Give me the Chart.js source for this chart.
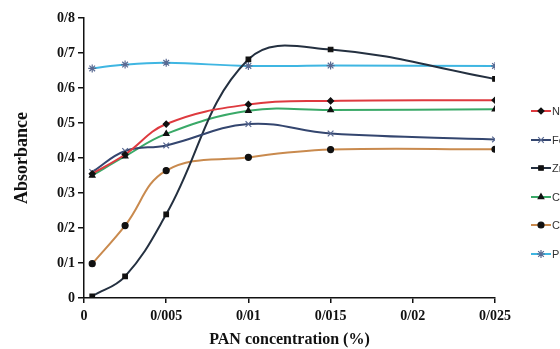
<!DOCTYPE html>
<html><head><meta charset="utf-8">
<script src="https://cdn.jsdelivr.net/npm/chart.js@4"></script>
<style>html,body{margin:0;padding:0;background:#fff;overflow:hidden}#wrap{width:560px;height:349px;position:relative}</style>
</head><body><div id="wrap"><canvas id="c" width="560" height="349"></canvas></div>
<script>
const concentrations = [0.0005, 0.0025, 0.005, 0.01, 0.015, 0.025];
const seriesNames = ["Ni", "Fe", "Zn", "Cu", "Co", "Pb"];
const niValues = [0.355, 0.41, 0.497, 0.553, 0.563, 0.565];
const feValues = [0.36, 0.42, 0.436, 0.497, 0.47, 0.453];
const znValues = [0.005, 0.062, 0.239, 0.682, 0.71, 0.626];
const cuValues = [0.35, 0.405, 0.469, 0.535, 0.537, 0.539];
const coValues = [0.098, 0.207, 0.364, 0.402, 0.424, 0.425];
const pbValues = [0.656, 0.667, 0.672, 0.663, 0.664, 0.663];
const yTickLabels = ["0","0/1","0/2","0/3","0/4","0/5","0/6","0/7","0/8"];
const xTickLabels = ["0","0/005","0/01","0/015","0/02","0/025"];

const styles = [
  {line:'#de3a3f', point:'rectRot', pc:'#111', r:3},
  {line:'#34466f', point:'crossRot', pc:'#5a6a92', r:4},
  {line:'#243040', point:'rect', pc:'#111', r:3.2},
  {line:'#3aa968', point:'triangle', pc:'#111', r:3.2},
  {line:'#c98a4e', point:'circle', pc:'#111', r:3},
  {line:'#3fb6e2', point:'star', pc:'#5a6a92', r:4}
];
const allValues = [niValues, feValues, znValues, cuValues, coValues, pbValues];

const datasets = allValues.map((vals, i) => ({
  label: seriesNames[i],
  data: concentrations.map((x, j) => ({x: x, y: vals[j]})),
  borderColor: styles[i].line,
  borderWidth: 2,
  tension: 0.4,
  pointStyle: styles[i].point,
  pointRadius: styles[i].r,
  pointBackgroundColor: styles[i].pc,
  pointBorderColor: styles[i].pc,
  pointBorderWidth: 1.2,
  fill: false
}));

const legendYs = [111, 140, 168, 197, 225, 254];
const customLegend = {
  id: 'customLegend',
  afterDraw(chart) {
    const ctx = chart.ctx;
    ctx.save();
    chart.data.datasets.forEach((ds, i) => {
      const y = legendYs[i];
      ctx.strokeStyle = ds.borderColor;
      ctx.lineWidth = 2;
      ctx.beginPath(); ctx.moveTo(531, y); ctx.lineTo(551, y); ctx.stroke();
      ctx.fillStyle = ds.pointBackgroundColor;
      ctx.strokeStyle = ds.pointBorderColor;
      ctx.lineWidth = 1.2;
      Chart.helpers.drawPoint(ctx, {pointStyle: ds.pointStyle, radius: ds.pointRadius, borderWidth: 1.2}, 541, y);
      ctx.fillStyle = '#333';
      ctx.font = '11px "Liberation Sans", Arial, sans-serif';
      ctx.textBaseline = 'middle';
      ctx.fillText(ds.label, 552, y + 1);
    });
    ctx.restore();
  }
};

const tickFont = {family: '"Liberation Serif", "Times New Roman", serif', size: 14, weight: 'bold'};

new Chart(document.getElementById('c'), {
  type: 'line',
  data: {datasets},
  options: {
    responsive: false,
    animation: false,
    devicePixelRatio: 1,
    layout: {padding: {left: 8, right: 65, top: 18, bottom: 0}},
    plugins: {legend: {display: false}, tooltip: {enabled: false}},
    scales: {
      x: {
        type: 'linear', min: 0, max: 0.025,
        afterBuildTicks(s) { s.ticks = xTickLabels.map((t, i) => ({value: i * 0.005})); },
        ticks: {color: '#111', font: tickFont, padding: 5, callback: (v, i) => xTickLabels[i]},
        grid: {drawOnChartArea: false, color: '#111', tickLength: 5, lineWidth: 1.5},
        border: {color: '#111', width: 1.5},
        title: {display: true, text: 'PAN concentration (%)', color: '#111', padding: {top: 6, bottom: 0},
          font: {family: '"Liberation Serif", "Times New Roman", serif', size: 16, weight: 'bold'}},
        afterFit(s) { s.height = 51; }
      },
      y: {
        min: 0, max: 0.8,
        afterBuildTicks(s) { s.ticks = yTickLabels.map((t, i) => ({value: i * 0.1})); },
        ticks: {color: '#111', font: tickFont, padding: 3, callback: (v, i) => yTickLabels[i]},
        grid: {drawOnChartArea: false, color: '#111', tickLength: 6, lineWidth: 1.5},
        border: {color: '#111', width: 1.5},
        title: {display: true, text: 'Absorbance', color: '#111', padding: {bottom: 12},
          font: {family: '"Liberation Serif", "Times New Roman", serif', size: 18, weight: 'bold'}},
        afterFit(s) { s.width = 76; }
      }
    }
  },
  plugins: [customLegend]
});
</script></body></html>
